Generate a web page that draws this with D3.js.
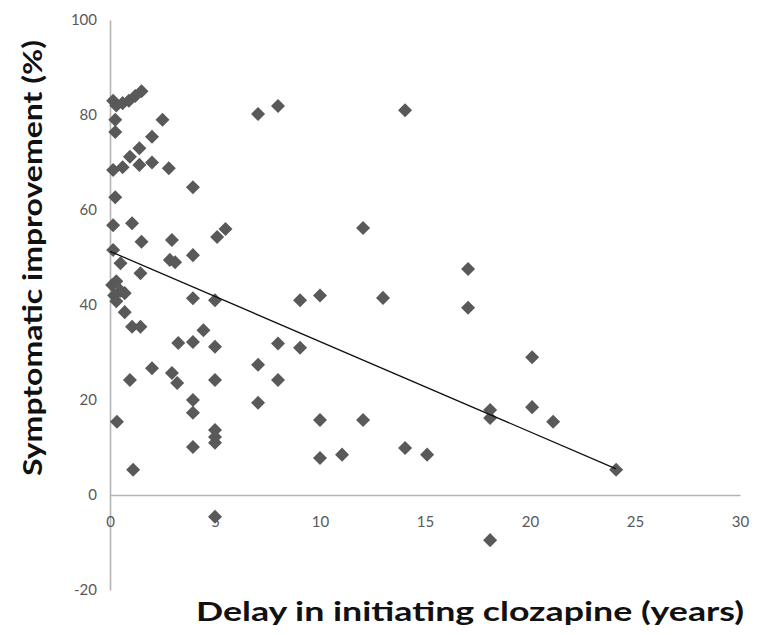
<!DOCTYPE html>
<html>
<head>
<meta charset="utf-8">
<script src="https://cdn.jsdelivr.net/npm/d3@7"></script>
<style>
  html, body { margin: 0; padding: 0; background: #fff; }
  svg { display: block; }
  .tick text { font-family: Lato, "Open Sans", sans-serif; font-size: 15px; fill: #595959; }
  .title { font-family: Lato, "Open Sans", sans-serif; font-weight: bold; font-size: 26px; fill: #111; }
</style>
</head>
<body>
<svg id="chart" width="758" height="635"></svg>
<script>
// delay in initiating clozapine (years)
var delayYears = [
  0.15, 0.3, 0.6, 0.9, 1.2, 1.5,
  0.25, 0.25, 2.5, 2.0, 1.4, 0.95,
  0.15, 0.6, 1.4, 2.0, 2.8, 3.95,
  0.25, 0.15, 1.05, 1.5, 2.95, 5.1, 5.5,
  0.15, 0.5, 2.85, 3.1, 3.95, 1.45,
  0.1, 0.3, 0.5, 0.2, 0.7, 0.3,
  3.95, 5.0, 0.7, 1.05, 1.45, 4.45, 3.95, 3.25, 5.0,
  2.0, 0.95, 2.95, 3.2, 5.0, 3.95,
  0.33, 3.95, 5.0, 5.0, 5.0, 3.95, 1.1, 5.0,
  7.05, 8.0, 14.05, 12.05, 17.05, 17.05,
  9.05, 10.0, 13.0, 8.0, 9.05, 7.05, 8.0, 7.05,
  10.0, 12.05, 10.0, 11.05, 14.05, 15.1,
  18.1, 18.1, 20.1, 20.1, 21.1, 18.1, 24.1
];
// symptomatic improvement (%)
var improvementPct = [
  83, 82, 82.5, 83, 84, 85,
  79, 76.4, 79, 75.4, 73, 71.2,
  68.4, 69, 69.5, 70, 68.8, 64.8,
  62.7, 56.8, 57.2, 53.3, 53.7, 54.3, 56,
  51.6, 48.8, 49.5, 49, 50.5, 46.7,
  44.2, 45, 43, 42, 42.5, 40.8,
  41.4, 41, 38.5, 35.4, 35.4, 34.7, 32.2, 32, 31.2,
  26.7, 24.2, 25.7, 23.6, 24.2, 20,
  15.4, 17.3, 13.7, 12.2, 11, 10.1, 5.3, -4.6,
  80.2, 81.9, 81, 56.2, 47.6, 39.4,
  41, 42, 41.5, 31.9, 31, 27.4, 24.2, 19.4,
  15.8, 15.8, 7.8, 8.5, 9.9, 8.5,
  17.9, 16.2, 29, 18.5, 15.4, -9.5, 5.3
];
var xTicks = [0, 5, 10, 15, 20, 25, 30];
var yTicks = [-20, 0, 20, 40, 60, 80, 100];
// linear trend
var trendIntercept = 51.3;
var trendSlope = -1.9;

var points = delayYears.map(function (d, i) { return { x: d, y: improvementPct[i] }; });

var svg = d3.select("#chart");
var x = d3.scaleLinear().domain([0, 30]).range([110, 740]);
var y = d3.scaleLinear().domain([-20, 100]).range([590, 20]);

// plain hyphen for negatives, like the original
var fmt = function (d) { return String(d); };

var yAxis = svg.append("g")
    .attr("transform", "translate(" + x(0) + ",0)")
    .call(d3.axisLeft(y).tickValues(yTicks).tickFormat(fmt).tickSize(0).tickPadding(13));
var xAxis = svg.append("g")
    .attr("transform", "translate(0," + y(0) + ")")
    .call(d3.axisBottom(x).tickValues(xTicks).tickFormat(fmt).tickSize(0).tickPadding(21));
[xAxis, yAxis].forEach(function (ax) {
    ax.select(".domain").attr("stroke", "#b4b4b4").attr("stroke-width", 1.6);
});

var diamond = d3.symbol().type(d3.symbolDiamond2).size(125);
svg.append("g").selectAll("path")
    .data(points)
    .enter().append("path")
    .attr("d", diamond)
    .attr("transform", function (d) { return "translate(" + x(d.x) + "," + y(d.y) + ")"; })
    .attr("fill", "#595959");

var xMax = d3.max(delayYears);
svg.append("line")
    .attr("x1", x(0)).attr("y1", y(trendIntercept))
    .attr("x2", x(xMax)).attr("y2", y(trendIntercept + trendSlope * xMax))
    .attr("stroke", "#111").attr("stroke-width", 1.3);

svg.append("text")
    .attr("class", "title")
    .attr("x", 470).attr("y", 621)
    .attr("text-anchor", "middle")
    .attr("textLength", 548).attr("lengthAdjust", "spacingAndGlyphs")
    .text("Delay in initiating clozapine (years)");

svg.append("text")
    .attr("class", "title")
    .attr("transform", "translate(42,258) rotate(-90)")
    .attr("text-anchor", "middle")
    .attr("textLength", 436).attr("lengthAdjust", "spacingAndGlyphs")
    .text("Symptomatic improvement (%)");
</script>
</body>
</html>
